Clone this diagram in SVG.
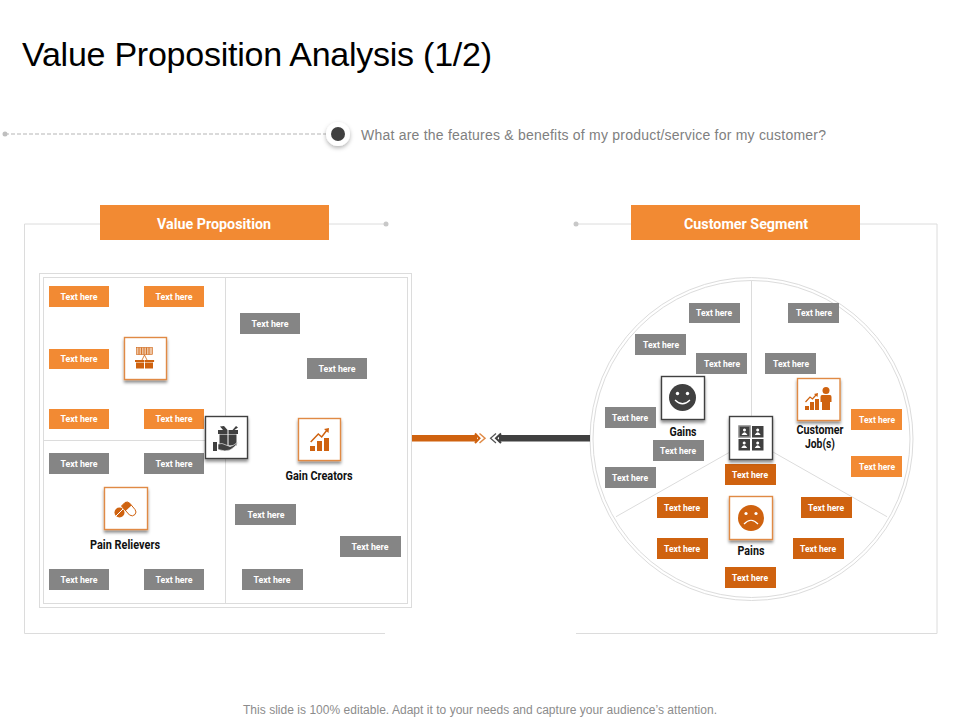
<svg xmlns="http://www.w3.org/2000/svg" width="960" height="720" viewBox="0 0 960 720">
<style>
text{font-family:"Roboto","Liberation Sans",sans-serif}
.ar{font-family:"Liberation Sans",Arial,sans-serif}
.fr{fill:none;stroke:#dcdcdc;stroke-width:1}
.o{fill:#f28a33}.d{fill:#cf620f}.g{fill:#858585}
.t{font-size:8.500px;font-weight:700;fill:#fff;text-anchor:middle}
.l{font-size:12px;font-weight:700;fill:#111;text-anchor:middle}
.h{font-size:15px;font-weight:700;fill:#fff;text-anchor:middle}
.ib{fill:#fff;stroke:#e08a45;stroke-width:1.400;filter:url(#s)}
.ik{fill:#fff;stroke:#404040;stroke-width:1.400;filter:url(#s)}
.io{fill:#cf620f}.ik2{fill:#404040}
</style>
<defs>
<filter id="s" x="-30%" y="-30%" width="160%" height="170%"><feDropShadow dx="0" dy="2.500" stdDeviation="1.800" flood-color="#000" flood-opacity="0.450"/></filter>
<filter id="s2" x="-50%" y="-50%" width="200%" height="200%"><feDropShadow dx="0" dy="2" stdDeviation="2" flood-color="#000" flood-opacity="0.300"/></filter>
</defs>
<rect width="960" height="720" fill="#fff"/>
<text id="title" class="ar" x="22" y="66" font-size="34" fill="#000" textLength="470" lengthAdjust="spacing">Value Proposition Analysis (1/2)</text>
<g id="subtitle">
<line x1="5" y1="134" x2="326" y2="134" stroke="#b5b5b5" stroke-dasharray="4 2"/>
<circle cx="5" cy="134" r="2.500" fill="#bfbfbf"/>
<circle cx="338" cy="134" r="12" fill="#fff" filter="url(#s2)"/>
<circle cx="338" cy="134" r="7" fill="#404040"/>
<text class="ar" x="361" y="140" font-size="14" fill="#808080" textLength="465" lengthAdjust="spacing">What are the features &amp; benefits of my product/service for my customer?</text>
</g>
<g id="connectors">
<path class="fr" d="M100 224H24.500V633.500H385M329 224H385"/>
<circle cx="386" cy="224" r="2.500" fill="#c8c8c8"/>
<path class="fr" d="M631 224H576M860 224H937V633.500H576"/>
<circle cx="576" cy="224" r="2.500" fill="#c8c8c8"/>
<rect class="fr" x="39.500" y="273.500" width="372" height="334"/>
<rect class="fr" x="43.500" y="277.500" width="364" height="326"/>
<path class="fr" d="M225.500 277.500V603.500M43.500 440.500H206"/>
<circle class="fr" cx="751.500" cy="439" r="161.500"/>
<circle class="fr" cx="751.500" cy="439" r="158.500"/>
<path class="fr" d="M751.500 280.500V417M616 516.700L730 452M887 516.700L773 452"/>
<path d="M412 435H477V441.500H412Z" fill="#cf620f"/>
<path d="M475 433.500L479.500 438.200L475 443" fill="none" stroke="#cf620f" stroke-width="2"/>
<path d="M479.500 433.500L485 438.200L479.500 443" fill="none" stroke="#e08a45" stroke-width="1.500"/>
<path d="M590 435H499V441.500H590Z" fill="#404040"/>
<path d="M501 433.500L496 438.200L501 443" fill="none" stroke="#404040" stroke-width="2"/>
<path d="M496 433.500L490.500 438.200L496 443" fill="none" stroke="#555" stroke-width="1.200"/>
</g>
<g id="head-vp"><rect class="o" x="100" y="205" width="229" height="35"/><text class="h" x="214" y="229" textLength="114" lengthAdjust="spacingAndGlyphs">Value Proposition</text></g>
<g id="head-cs"><rect class="o" x="631" y="205" width="229" height="35"/><text class="h" x="746" y="229" textLength="124" lengthAdjust="spacingAndGlyphs">Customer Segment</text></g>

<g id="pr1"><rect class="o" x="49" y="286" width="60" height="21"/><text class="t" x="79" y="300" textLength="37" lengthAdjust="spacingAndGlyphs">Text here</text></g>
<g id="pr2"><rect class="o" x="144" y="286" width="60" height="21"/><text class="t" x="174" y="300" textLength="37" lengthAdjust="spacingAndGlyphs">Text here</text></g>
<g id="pr3"><rect class="o" x="49" y="349" width="60" height="20"/><text class="t" x="79" y="362" textLength="37" lengthAdjust="spacingAndGlyphs">Text here</text></g>
<g id="pr4"><rect class="o" x="49" y="409" width="60" height="20"/><text class="t" x="79" y="422" textLength="37" lengthAdjust="spacingAndGlyphs">Text here</text></g>
<g id="pr5"><rect class="o" x="144" y="409" width="60" height="20"/><text class="t" x="174" y="422" textLength="37" lengthAdjust="spacingAndGlyphs">Text here</text></g>
<g id="pr6"><rect class="g" x="49" y="453" width="60" height="21"/><text class="t" x="79" y="467" textLength="37" lengthAdjust="spacingAndGlyphs">Text here</text></g>
<g id="pr7"><rect class="g" x="144" y="453" width="60" height="21"/><text class="t" x="174" y="467" textLength="37" lengthAdjust="spacingAndGlyphs">Text here</text></g>
<g id="pr8"><rect class="g" x="49" y="569" width="60" height="21"/><text class="t" x="79" y="583" textLength="37" lengthAdjust="spacingAndGlyphs">Text here</text></g>
<g id="pr9"><rect class="g" x="144" y="569" width="60" height="21"/><text class="t" x="174" y="583" textLength="37" lengthAdjust="spacingAndGlyphs">Text here</text></g>
<g id="gc1"><rect class="g" x="240" y="313" width="60" height="21"/><text class="t" x="270" y="327" textLength="37" lengthAdjust="spacingAndGlyphs">Text here</text></g>
<g id="gc2"><rect class="g" x="307" y="358" width="60" height="21"/><text class="t" x="337" y="372" textLength="37" lengthAdjust="spacingAndGlyphs">Text here</text></g>
<g id="gc3"><rect class="g" x="235" y="504" width="61" height="21"/><text class="t" x="266" y="518" textLength="37" lengthAdjust="spacingAndGlyphs">Text here</text></g>
<g id="gc4"><rect class="g" x="340" y="536" width="61" height="21"/><text class="t" x="370" y="550" textLength="37" lengthAdjust="spacingAndGlyphs">Text here</text></g>
<g id="gc5"><rect class="g" x="242" y="569" width="61" height="21"/><text class="t" x="272" y="583" textLength="37" lengthAdjust="spacingAndGlyphs">Text here</text></g>

<g id="icon-products"><rect class="ib" x="124.500" y="337.500" width="42" height="42"/>
<rect x="136.500" y="347.500" width="16" height="7" fill="#eec3a0" stroke="#cf620f" stroke-width=".6"/>
<path d="M139 347.500V354.500M141.500 347.500V354.500M144 347.500V354.500M146.500 347.500V354.500M149 347.500V354.500" stroke="#cf620f" stroke-width=".8"/>
<path d="M144.500 355L142 360M144.500 355L147 360" stroke="#cf620f" stroke-width=".8" fill="none"/>
<rect class="io" x="135" y="360" width="9.300" height="2"/><rect class="io" x="144.800" y="360" width="9.300" height="2"/>
<rect class="io" x="136" y="362.500" width="8" height="6"/><rect class="io" x="145" y="362.500" width="8" height="6"/>
</g>
<g id="icon-gift"><rect class="ik" x="205.500" y="416.500" width="42" height="42"/>
<rect class="ik2" x="218" y="430" width="20" height="4"/>
<rect class="ik2" x="219.500" y="434.500" width="17" height="11"/>
<path d="M223 430L220 426.500L224 426L227.500 430ZM232.500 430L236 426L238 427.500L234.500 430Z" fill="#404040"/>
<path d="M228 430V445.500" stroke="#fff" stroke-width="1"/>
<rect class="ik2" x="213" y="442" width="4" height="9"/>
<path class="ik2" d="M218 444Q222 442.500 226 445L230 446.500L233 445.500L238 442Q235 447.500 230 450Q225 452 218 449.500Z" stroke="#fff" stroke-width=".6"/>
</g>
<g id="icon-gain"><rect class="ib" x="298.500" y="418.500" width="42" height="42"/>
<path class="io" d="M310 446H315V451H310ZM317 441H322V451H317ZM324 438H329V451H324Z"/>
<path d="M310.700 442L318.300 434L321.700 437L327 430" fill="none" stroke="#cf620f" stroke-width="1.500"/>
<path class="io" d="M324 429L329 428L328.500 433Z"/>
</g>
<g id="icon-pain"><rect class="ib" x="104.500" y="487.500" width="43" height="42"/>
<circle class="io" cx="119.500" cy="512.500" r="5"/>
<path d="M116 516L123 509" stroke="#fff" stroke-width="1"/>
<path d="M121.500 506L125 502.500Q127.500 501 130 503.500L135 509.500Q137 512 135 514.500Q132.500 517 129.500 515Z" fill="#fff" stroke="#cf620f"/>
<path class="io" d="M121.500 506L125 502.500Q127.500 501 130 503.500L131.500 505.500L125.500 511Z"/>
</g>
<text id="lbl-gain" class="l" x="319" y="480" textLength="67" lengthAdjust="spacingAndGlyphs">Gain Creators</text>
<text id="lbl-pain" class="l" x="125" y="549" textLength="70" lengthAdjust="spacingAndGlyphs">Pain Relievers</text>

<g id="cg1"><rect class="g" x="689" y="303" width="51" height="20"/><text class="t" x="714" y="316" textLength="36" lengthAdjust="spacingAndGlyphs">Text here</text></g>
<g id="cg2"><rect class="g" x="635" y="334" width="51" height="21"/><text class="t" x="661" y="348" textLength="36" lengthAdjust="spacingAndGlyphs">Text here</text></g>
<g id="cg3"><rect class="g" x="696" y="353" width="51" height="21"/><text class="t" x="722" y="367" textLength="36" lengthAdjust="spacingAndGlyphs">Text here</text></g>
<g id="cg4"><rect class="g" x="788" y="303" width="51" height="20"/><text class="t" x="814" y="316" textLength="36" lengthAdjust="spacingAndGlyphs">Text here</text></g>
<g id="cg5"><rect class="g" x="765" y="353" width="51" height="21"/><text class="t" x="791" y="367" textLength="36" lengthAdjust="spacingAndGlyphs">Text here</text></g>
<g id="cg6"><rect class="g" x="605" y="407" width="51" height="21"/><text class="t" x="630" y="421" textLength="36" lengthAdjust="spacingAndGlyphs">Text here</text></g>
<g id="cg7"><rect class="g" x="653" y="440" width="51" height="21"/><text class="t" x="678" y="454" textLength="36" lengthAdjust="spacingAndGlyphs">Text here</text></g>
<g id="cg8"><rect class="g" x="605" y="467" width="51" height="21"/><text class="t" x="630" y="481" textLength="36" lengthAdjust="spacingAndGlyphs">Text here</text></g>
<g id="cj1"><rect class="o" x="851" y="409" width="51" height="21"/><text class="t" x="877" y="423" textLength="36" lengthAdjust="spacingAndGlyphs">Text here</text></g>
<g id="cj2"><rect class="o" x="851" y="456" width="51" height="21"/><text class="t" x="877" y="470" textLength="36" lengthAdjust="spacingAndGlyphs">Text here</text></g>
<g id="cp1"><rect class="d" x="725" y="464" width="51" height="21"/><text class="t" x="750" y="478" textLength="36" lengthAdjust="spacingAndGlyphs">Text here</text></g>
<g id="cp2"><rect class="d" x="657" y="497" width="51" height="21"/><text class="t" x="682" y="511" textLength="36" lengthAdjust="spacingAndGlyphs">Text here</text></g>
<g id="cp3"><rect class="d" x="801" y="497" width="51" height="21"/><text class="t" x="826" y="511" textLength="36" lengthAdjust="spacingAndGlyphs">Text here</text></g>
<g id="cp4"><rect class="d" x="657" y="538" width="51" height="21"/><text class="t" x="682" y="552" textLength="36" lengthAdjust="spacingAndGlyphs">Text here</text></g>
<g id="cp5"><rect class="d" x="793" y="538" width="51" height="21"/><text class="t" x="818" y="552" textLength="36" lengthAdjust="spacingAndGlyphs">Text here</text></g>
<g id="cp6"><rect class="d" x="725" y="567" width="51" height="21"/><text class="t" x="750" y="581" textLength="36" lengthAdjust="spacingAndGlyphs">Text here</text></g>

<g id="icon-gains"><rect class="ik" x="661.500" y="376.500" width="43" height="43"/>
<circle class="ik2" cx="682.500" cy="397.500" r="13.500"/>
<circle cx="677.500" cy="393.500" r="1.700" fill="#fff"/><circle cx="687.500" cy="393.500" r="1.700" fill="#fff"/>
<path d="M675 400Q682.500 407.500 690 400" fill="none" stroke="#fff" stroke-width="1.200"/>
</g>
<g id="icon-center"><rect class="ik" x="729.500" y="416.500" width="43" height="43"/>
<rect x="739" y="426" width="11" height="11" class="ik2" stroke="#8a8a8a" stroke-width="1.500"/>
<rect class="ik2" x="752" y="426" width="11.500" height="11.500"/>
<rect class="ik2" x="738.500" y="439" width="11.500" height="11.500"/>
<rect class="ik2" x="752" y="439" width="11.500" height="11.500"/>
<path fill="#fff" d="M744.500 428.500a1.500 1.500 0 1 1-.01 0ZM741.500 435Q744.500 429.500 747.500 435ZM757.700 428.500a1.500 1.500 0 1 1-.01 0ZM754.700 435Q757.700 429.500 760.700 435ZM744.200 441.500a1.500 1.500 0 1 1-.01 0ZM741.200 448Q744.200 442.500 747.200 448ZM757.700 441.500a1.500 1.500 0 1 1-.01 0ZM754.700 448Q757.700 442.500 760.700 448Z"/>
</g>
<g id="icon-jobs"><rect class="ib" x="797.500" y="378.500" width="42.500" height="42"/>
<circle class="io" cx="826" cy="390.500" r="3.500"/>
<path class="io" d="M822 395H830Q831.500 395 831.500 397V402H830V410H822V402H820.500V397Q820.500 395 822 395Z"/>
<path class="io" d="M805 406H809V410H805ZM810 402H814V410H810ZM815 399H819V410H815Z"/>
<path d="M805.500 402L810 397L812.500 399L816 395" fill="none" stroke="#cf620f" stroke-width="1.200"/>
<path class="io" d="M814 394L818 393L817.500 397Z"/>
</g>
<g id="icon-pains"><rect class="ib" x="729.500" y="496.500" width="43" height="43"/>
<circle class="io" cx="751" cy="518" r="13"/>
<circle cx="746" cy="513.500" r="1.600" fill="#fff"/><circle cx="756" cy="513.500" r="1.600" fill="#fff"/>
<path d="M744 524Q751 516.500 758 524" fill="none" stroke="#fff" stroke-width="1.200"/>
</g>
<text id="lbl-gains" class="l" x="683" y="436" textLength="27" lengthAdjust="spacingAndGlyphs">Gains</text>
<text id="lbl-jobs" class="l" x="820" y="434" textLength="47" lengthAdjust="spacingAndGlyphs">Customer</text>
<text id="lbl-jobs2" class="l" x="820" y="448" textLength="30" lengthAdjust="spacingAndGlyphs">Job(s)</text>
<text id="lbl-pains" class="l" x="751" y="555" textLength="27" lengthAdjust="spacingAndGlyphs">Pains</text>
<text id="footer" class="ar" x="480" y="714" font-size="12" fill="#8c8c8c" text-anchor="middle" textLength="474" lengthAdjust="spacing">This slide is 100% editable. Adapt it to your needs and capture your audience’s attention.</text>
</svg>
